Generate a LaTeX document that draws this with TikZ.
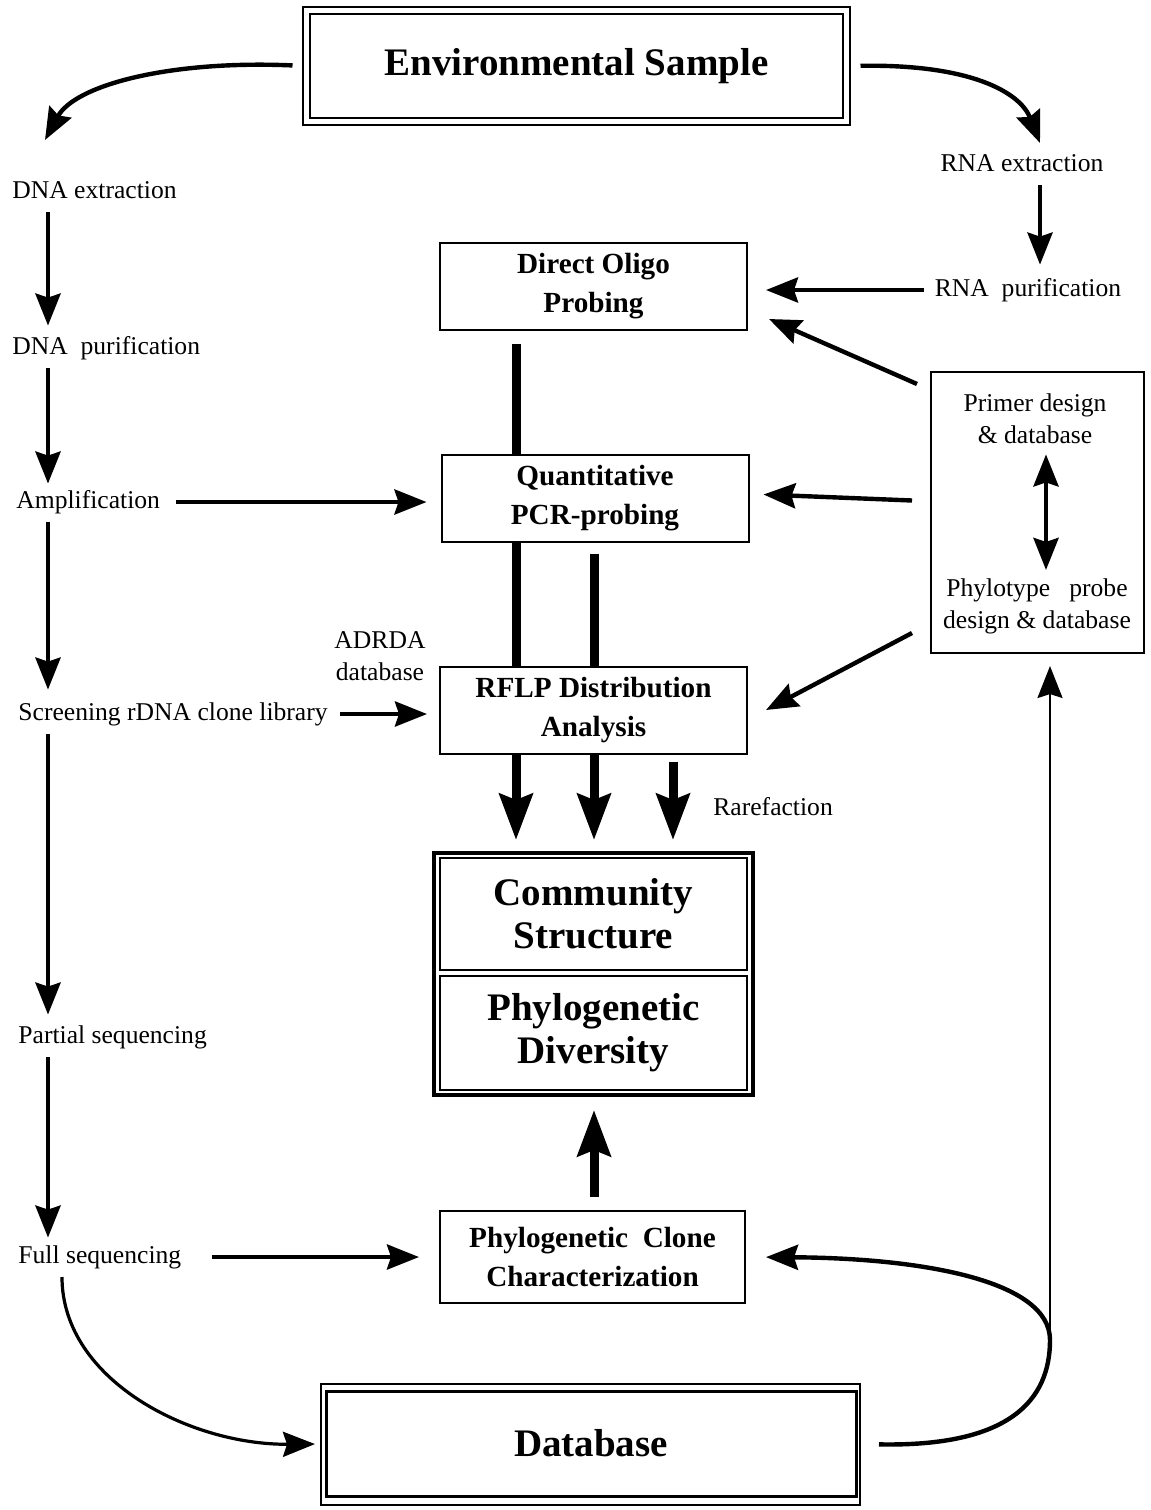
\documentclass[tikz,border=0pt]{standalone}
\usepackage{fontspec}
\setmainfont{Liberation Serif}
\usetikzlibrary{arrows.meta}

\begin{document}
\begin{tikzpicture}[x=0.5pt,y=-0.5pt,
  lbl/.style={inner sep=0pt, text height=9pt, text depth=3pt, font=\fontsize{12.8}{16}\selectfont},
  twoline/.style={inner sep=0pt, align=center, font=\fontsize{12.8}{16}\selectfont},
  box/.style={draw, line width=1pt, align=center, font=\fontsize{14.6}{19.5}\selectfont\bfseries, minimum width=153.5pt, minimum height=43.5pt},
  big/.style={align=center, font=\fontsize{19.5}{21.5}\selectfont\bfseries},
  arr/.style={line width=2.2pt, -{Stealth[length=16pt,width=12.5pt,inset=2pt]}},
  fat/.style={line width=4.5pt},
  fatarr/.style={line width=4.5pt, -{Stealth[length=23pt,width=16.5pt,inset=3pt]}}]
  \useasboundingbox (0,0) rectangle (1151,1510);

  % main boxes
  \node[draw, double, double distance=2.5pt, line width=1pt, minimum width=270pt, minimum height=55.5pt, big] (env) at (576.5,66) {Environmental Sample};
  \node[box] (oligo) at (593.5,286.5) {Direct Oligo\\Probing};
  \node[box] (quant) at (595,498.5) {Quantitative\\PCR-probing};
  \node[box] (rflp) at (593.5,710) {RFLP Distribution\\Analysis};
  \node[draw, line width=2pt, minimum width=159.5pt, minimum height=121pt] (comm) at (593.5,974) {};
  \node[draw, line width=1pt, minimum width=153.5pt, minimum height=56pt, big] (struct) at (593.5,914) {Community\\Structure};
  \node[draw, line width=1pt, minimum width=153.5pt, minimum height=57pt, big] (divers) at (593.5,1033) {Phylogenetic\\Diversity};
  \node[box, minimum width=152.5pt, minimum height=46pt] (clone) at (592.5,1257) {Phylogenetic\ \ Clone\\Characterization};
  \node[draw, line width=1pt, minimum width=269.5pt, minimum height=60.5pt] (dbout) at (590.5,1444) {};
  \node[draw, line width=1.5pt, minimum width=265pt, minimum height=52.5pt, big] (db) at (591,1443.5) {Database};
  \node[draw, line width=1pt, minimum width=106.5pt, minimum height=140.5pt] (pbox) at (1037.5,512.5) {};

  % left column
  \node[lbl, anchor=base west] (dnaext) at (12,198) {DNA extraction};
  \node[lbl, anchor=base west] (dnapur) at (12,354) {DNA\ \ purification};
  \node[lbl, anchor=base west] (ampl) at (16,508) {Amplification};
  \node[lbl, anchor=base west] (screen) at (18,720) {Screening rDNA clone library};
  \node[lbl, anchor=base west] (partial) at (18,1043) {Partial sequencing};
  \node[lbl, anchor=base west] (full) at (18,1263) {Full sequencing};

  % right side labels
  \node[lbl, anchor=base] (rnaext) at (1022,171) {RNA extraction};
  \node[lbl, anchor=base] (rnapur) at (1028,296) {RNA\ \ purification};
  \node[twoline] (primer) at (1035,419) {Primer design\\\& database};
  \node[twoline] (phylo) at (1037,606) {Phylotype\ \ \ probe\\design \& database};
  \node[twoline] (adrda) at (380,656) {ADRDA\\database};
  \node[lbl, anchor=base west] (rare) at (713,815) {Rarefaction};

  \coordinate (lc) at (48,0);
  \coordinate (rc) at (1040,0);
  \coordinate (c1) at (516,0);
  \coordinate (c2) at (594,0);
  \coordinate (c3) at (673,0);
  \coordinate (c4) at (1046,0);
  \coordinate (ltip) at (45,140);
  \coordinate (rtip) at (1040,143);
  \coordinate (fs) at (62,1277);
  \coordinate (jn) at (1050,1340);

  % sample to extraction
  \draw[arr, shorten <=6.5pt] (env.west) .. controls (170,60) and (75,85) .. (ltip);
  \draw[arr, shorten <=6.5pt] (env.east) .. controls (970,64) and (1020,92) .. (rtip);

  % left chain
  \draw[arr, shorten <=4pt, shorten >=5pt] (dnaext.south -| lc) -- (dnapur.north -| lc);
  \draw[arr, shorten <=4pt, shorten >=3pt] (dnapur.south -| lc) -- (ampl.north -| lc);
  \draw[arr, shorten <=4pt, shorten >=6pt] (ampl.south -| lc) -- (screen.north -| lc);
  \draw[arr, shorten <=4pt, shorten >=5pt] (screen.south -| lc) -- (partial.north -| lc);
  \draw[arr, shorten <=4pt, shorten >=3.5pt] (partial.south -| lc) -- (full.north -| lc);

  \draw[arr, shorten <=8pt, shorten >=7pt] (ampl.east) -- (quant.west |- ampl.east);
  \draw[arr, shorten <=6pt, shorten >=6pt] (screen.east) -- (rflp.west |- screen.east);
  \draw[arr, shorten <=15pt, shorten >=10pt] (full.east) -- (clone.west |- full.east);
  \draw[line width=1.6pt, -{Stealth[length=16pt,width=12.5pt,inset=2pt]}, shorten >=2.5pt] (fs) .. controls (62,1380) and (190,1445) .. (dbout.west);

  % right chain
  \draw[arr, shorten <=4pt, shorten >=6.5pt] (rnaext.south -| rc) -- (rnapur.north -| rc);
  \draw[arr, shorten <=5pt, shorten >=9pt] (rnapur.west) -- (oligo.east |- rnapur.west);
  \draw[arr] ([xshift=-6.5pt,yshift=-6.5pt]pbox.north west) -- ([xshift=10.5pt,yshift=6pt]oligo.south east);
  \draw[arr] ([xshift=-9pt,yshift=6pt]pbox.west) -- ([xshift=7pt,yshift=2pt]quant.east);
  \draw[arr] ([xshift=-9pt,yshift=10.5pt]pbox.south west) -- ([xshift=9pt]rflp.east);
  \draw[line width=2.2pt, {Stealth[length=16pt,width=12.5pt,inset=2pt]}-{Stealth[length=16pt,width=12.5pt,inset=2pt]}, shorten <=5pt, shorten >=4pt] (primer.south -| c4) -- (phylo.north -| c4);

  % central thick paths
  \draw[fat, shorten <=6.5pt] (oligo.south -| c1) -- (quant.north -| c1);
  \draw[fat] (quant.south -| c1) -- (rflp.north -| c1);
  \draw[fat, shorten <=5.5pt] (quant.south -| c2) -- (rflp.north -| c2);
  \draw[fatarr, shorten >=5.5pt] (rflp.south -| c1) -- (comm.north -| c1);
  \draw[fatarr, shorten >=5.5pt] (rflp.south -| c2) -- (comm.north -| c2);
  \draw[fatarr, shorten <=3.5pt, shorten >=5.5pt] (rflp.south -| c3) -- (comm.north -| c3);
  \draw[fatarr, shorten <=6.5pt, shorten >=6.5pt] (clone.north -| c2) -- (comm.south -| c2);

  % database feedback
  \draw[arr, shorten <=9pt, shorten >=10pt] (dbout.east) .. controls (1010,1447) and (1050,1400) .. (jn) .. controls (1050,1280) and (920,1258) .. (clone.east);
  \draw[line width=1.2pt, -{Stealth[length=16pt,width=12.5pt,inset=2pt]}, shorten >=6pt] (jn) -- (pbox.south -| jn);
\end{tikzpicture}
\end{document}
